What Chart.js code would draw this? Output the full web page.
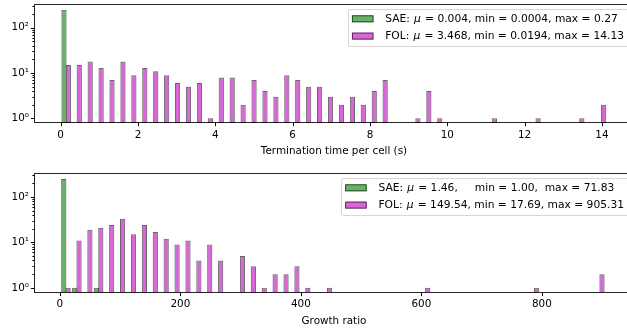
<!DOCTYPE html>
<html>
<head>
<meta charset="utf-8">
<script src="https://cdn.jsdelivr.net/npm/chart.js@4.4.0/dist/chart.umd.min.js"></script>
<style>
  html, body { margin: 0; padding: 0; background: #fff; overflow: hidden; }
  body { width: 627px; height: 332px; position: relative; }
  .panel { position: absolute; left: 0; width: 640px; height: 166px; }
  #top { top: 0; }
  #bottom { top: 166px; }
</style>
</head>
<body>
<div class="panel" id="top"><canvas id="timeChart" width="640" height="166"></canvas></div>
<div class="panel" id="bottom"><canvas id="ratioChart" width="640" height="166"></canvas></div>
<script>
// Histograms, 50 bins over the combined range of both samples
const nBins = 50;

// Termination time per cell (s)
const timeRange = [0.0004, 14.13];
const timeSAE = [250, 0, 0, 0, 0, 0, 0, 0, 0, 0, 0, 0, 0, 0, 0, 0, 0, 0, 0, 0, 0, 0, 0, 0, 0,
                 0, 0, 0, 0, 0, 0, 0, 0, 0, 0, 0, 0, 0, 0, 0, 0, 0, 0, 0, 0, 0, 0, 0, 0, 0];
const timeFOL = [15, 15, 18, 13, 7, 18, 9, 13, 11, 9, 6, 5, 6, 1, 8, 8, 2, 7, 4, 3, 9, 7, 5, 5, 3,
                 2, 3, 2, 4, 7, 0, 0, 1, 4, 1, 0, 0, 0, 0, 1, 0, 0, 0, 1, 0, 0, 0, 1, 0, 2];
const timeTicks = [0, 2, 4, 6, 8, 10, 12, 14];
const timeLegend = ['SAE: μ = 0.004, min = 0.0004, max = 0.27',
                    'FOL: μ = 3.468, min = 0.0194, max = 14.13'];

// Growth ratio
const ratioRange = [1.00, 905.31];
const ratioSAE = [248, 1, 0, 1, 0, 0, 0, 0, 0, 0, 0, 0, 0, 0, 0, 0, 0, 0, 0, 0, 0, 0, 0, 0, 0,
                  0, 0, 0, 0, 0, 0, 0, 0, 0, 0, 0, 0, 0, 0, 0, 0, 0, 0, 0, 0, 0, 0, 0, 0, 0];
const ratioFOL = [1, 11, 19, 21, 24, 33, 15, 24, 17, 12, 9, 11, 4, 9, 4, 0, 5, 3, 1, 2, 2, 3, 1, 0, 1,
                  0, 0, 0, 0, 0, 0, 0, 0, 1, 0, 0, 0, 0, 0, 0, 0, 0, 0, 1, 0, 0, 0, 0, 0, 2];
const ratioTicks = [0, 200, 400, 600, 800];
const ratioLegend = ['SAE: μ = 1.46,     min = 1.00,  max = 71.83',
                     'FOL: μ = 149.54, min = 17.69, max = 905.31'];

// log y axis
const yMajor = [1, 10, 100];
const yMajorLabels = ['10⁰', '10¹', '10²'];
const yMinorMult = [2, 3, 4, 5, 6, 7, 8, 9];

const GREEN = 'rgba(0, 128, 0, 0.6)';
const MAGENTA = 'rgba(191, 0, 191, 0.6)';
const EDGE = 'rgba(0, 0, 0, 0.6)';
const FONT = '"DejaVu Sans", sans-serif';
const FS = 10.4;
const LEGEND_FS = 10.7;

function toPoints(range, counts) {
    const w = (range[1] - range[0]) / nBins;
    return counts.map((c, i) => ({ x: range[0] + w * (i + 0.5), y: c > 0 ? c : null }));
}

function yTickList(min, max) {
    const list = [];
    yMajor.forEach(m => {
        list.push({ value: m, major: true });
        yMinorMult.forEach(k => list.push({ value: m * k, major: false }));
    });
    return list.filter(t => t.value >= min && t.value <= max);
}

// ticks, spines and the boxed legend, drawn the way matplotlib does
const framePlugin = {
    id: 'frame',
    afterDraw(chart, args, opts) {
        const ctx = chart.ctx;
        const a = chart.chartArea;
        const xs = chart.scales.x, ys = chart.scales.y;
        ctx.save();
        ctx.strokeStyle = '#000';
        ctx.lineWidth = 1;
        const L = Math.floor(a.left) + 0.5, B = Math.round(a.bottom) - 0.5;
        const T = Math.round(a.top) + 0.5, R = Math.round(a.right) - 0.5;
        ctx.beginPath();
        xs.ticks.forEach(t => {
            const px = Math.round(xs.getPixelForValue(t.value)) + 0.5;
            ctx.moveTo(px, B); ctx.lineTo(px, B + 3.6);
        });
        ys.ticks.forEach(t => {
            const py = Math.round(ys.getPixelForValue(t.value)) + 0.5;
            ctx.moveTo(L, py); ctx.lineTo(L - (t.major ? 3.6 : 2.1), py);
        });
        ctx.stroke();
        ctx.strokeStyle = 'rgba(0,0,0,0.85)';
        ctx.strokeRect(L, T, R - L, B - T);

        // legend
        const normal = LEGEND_FS + 'px ' + FONT, italic = 'italic ' + LEGEND_FS + 'px ' + FONT;
        const muPad = 0.8;
        const rows = opts.labels.map(t => {
            const parts = t.split('μ');
            ctx.font = normal;
            const wa = ctx.measureText(parts[0]).width;
            const wb = ctx.measureText(parts[1]).width;
            ctx.font = italic;
            const wm = ctx.measureText('μ').width + 2 * muPad;
            return { a: parts[0], b: parts[1], wa, wm, wb, w: wa + wm + wb };
        });
        const textW = Math.max(...rows.map(r => r.w));
        const boxW = 4.4 + 21.6 + 11.7 + textW + 5, boxH = 37;
        const right = a.right - 5, top = a.top + 5, left = right - boxW;
        ctx.fillStyle = 'rgba(255,255,255,0.8)';
        ctx.strokeStyle = 'rgba(204,204,204,0.8)';
        ctx.beginPath();
        ctx.roundRect(Math.round(left) + 0.5, Math.round(top) + 0.5, boxW, boxH, 2);
        ctx.fill(); ctx.stroke();
        rows.forEach((r, i) => {
            const ds = chart.data.datasets[i];
            const cy = top + 9.8 + i * 17.3;
            ctx.fillStyle = ds.backgroundColor;
            ctx.fillRect(left + 4.4, cy - 3.5, 21.6, 7);
            ctx.strokeStyle = ds.borderColor;
            ctx.strokeRect(left + 4.9, cy - 3, 20.6, 6);
            let tx = left + 4.4 + 21.6 + 11.7;
            ctx.fillStyle = '#000';
            ctx.textBaseline = 'middle';
            ctx.textAlign = 'left';
            ctx.font = normal; ctx.fillText(r.a, tx, cy); tx += r.wa + muPad;
            ctx.font = italic; ctx.fillText('μ', tx, cy); tx += r.wm - muPad;
            ctx.font = normal; ctx.fillText(r.b, tx, cy);
        });
        ctx.restore();
    }
};

function makePanel(id, cfg) {
    new Chart(document.getElementById(id), {
        type: 'bar',
        data: {
            datasets: [
                { label: 'SAE', data: toPoints(cfg.range, cfg.sae), backgroundColor: GREEN,
                  borderColor: EDGE, borderWidth: 1, borderSkipped: false },
                { label: 'FOL', data: toPoints(cfg.range, cfg.fol), backgroundColor: MAGENTA,
                  borderColor: EDGE, borderWidth: 1, borderSkipped: false }
            ]
        },
        options: {
            responsive: false,
            animation: false,
            categoryPercentage: 0.8,
            barPercentage: 1.2,
            layout: { padding: { top: cfg.padTop, right: 6, left: 0, bottom: 0 } },
            plugins: {
                legend: { display: false },
                tooltip: { enabled: false },
                frame: { labels: cfg.legend }
            },
            scales: {
                x: {
                    type: 'linear',
                    offset: false,
                    min: cfg.xMin,
                    max: cfg.xMax,
                    grid: { display: false, drawTicks: false },
                    border: { display: false },
                    afterBuildTicks: s => { s.ticks = cfg.ticks.map(v => ({ value: v })); },
                    afterFit: s => { s.height = cfg.xHeight; s.paddingLeft = 0; s.paddingRight = 0; },
                    ticks: {
                        autoSkip: false,
                        maxRotation: 0,
                        padding: 5.8,
                        color: '#000',
                        font: { family: FONT, size: FS },
                        callback: v => String(v)
                    },
                    title: {
                        display: true,
                        text: cfg.title,
                        color: '#000',
                        font: { family: FONT, size: FS },
                        padding: { top: 0, bottom: cfg.titlePad }
                    }
                },
                y: {
                    type: 'logarithmic',
                    min: 0.79,
                    max: 335,
                    grid: { display: false, drawTicks: false },
                    border: { display: false },
                    afterBuildTicks: s => { s.ticks = yTickList(s.min, s.max); },
                    afterFit: s => { s.width = 34; s.paddingTop = 0; s.paddingBottom = 0; },
                    ticks: {
                        autoSkip: false,
                        padding: 5,
                        color: '#000',
                        font: { family: FONT, size: FS },
                        callback: v => {
                            const k = yMajor.indexOf(v);
                            return k >= 0 ? yMajorLabels[k] : '';
                        }
                    }
                }
            }
        },
        plugins: [framePlugin]
    });
}

makePanel('timeChart', {
    range: timeRange, sae: timeSAE, fol: timeFOL, ticks: timeTicks, legend: timeLegend,
    title: 'Termination time per cell (s)', xMin: -0.69, xMax: 14.83,
    padTop: 4, xHeight: 43, titlePad: 8.8
});

makePanel('ratioChart', {
    range: ratioRange, sae: ratioSAE, fol: ratioFOL, ticks: ratioTicks, legend: ratioLegend,
    title: 'Growth ratio', xMin: -43, xMax: 953,
    padTop: 7, xHeight: 39.5, titlePad: 4.8
});
</script>
</body>
</html>
